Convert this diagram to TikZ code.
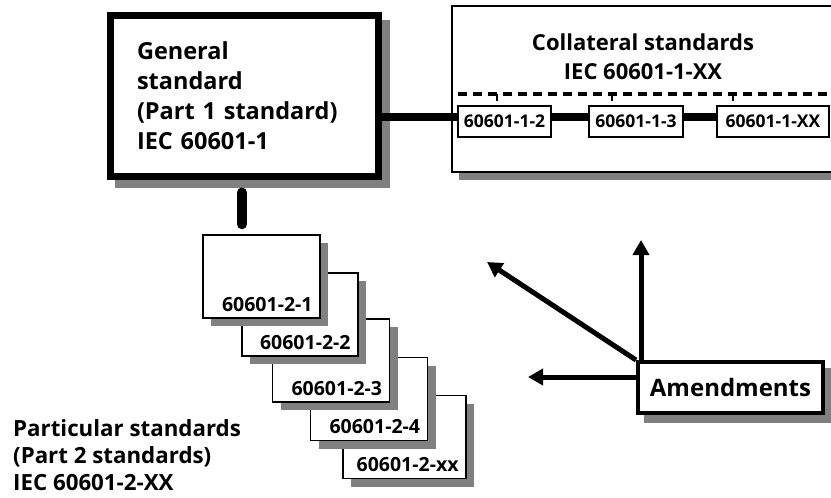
\documentclass[tikz,border=0pt]{standalone}
\usepackage{fontspec}
\setmainfont{Open Sans}
\usetikzlibrary{arrows.meta,shadows,backgrounds,calc}
\definecolor{shadowgray}{gray}{0.5}
\tikzset{
  x=1pt, y=-1pt,
  boxshadow/.style={drop shadow={shadow xshift=8pt, shadow yshift=-8pt, fill=shadowgray, opacity=1}},
  genbox/.style={draw, line width=7pt, fill=white, minimum width=268pt, minimum height=161pt,
    text width=214pt, align=left, inner xsep=27pt, inner ysep=0pt,
    font=\fontsize{23.5}{30}\selectfont\bfseries},
  colbox/.style={draw, line width=1.5pt, fill=white, minimum width=408pt, minimum height=166pt,
    drop shadow={shadow xshift=7pt, shadow yshift=-8pt, fill=shadowgray, opacity=1}},
  coltitle/.style={align=center, inner sep=0pt, font=\fontsize{22}{29}\selectfont\bfseries},
  smallc/.style={draw, line width=1.5pt, fill=white, minimum height=31pt, inner sep=0pt,
    font=\fontsize{17.5}{20}\selectfont\bfseries},
  dashline/.style={line width=3.5pt, dash pattern=on 8.5pt off 6.5pt},
  tickline/.style={line width=2pt, shorten >=4pt},
  link/.style={line width=8pt},
  vlink/.style={line width=10pt, line cap=round, shorten >=10pt},
  pbox/.style={draw, line width=1.5pt, fill=white, minimum width=117pt, minimum height=83pt,
    inner sep=0pt, boxshadow},
  plbl/.style={anchor=south east, inner xsep=8pt, inner ysep=7pt,
    font=\fontsize{19.5}{22}\selectfont\bfseries},
  ptitle/.style={align=left, inner sep=0pt, anchor=north west,
    font=\fontsize{22.3}{27}\selectfont\bfseries},
  amendbox/.style={draw, line width=4pt, fill=white, minimum width=185pt, minimum height=51pt,
    inner sep=0pt, font=\fontsize{24}{28}\selectfont\bfseries},
  arr/.style={line width=5pt, -{Triangle[length=15pt,width=16pt]}},
}
\begin{document}
\begin{tikzpicture}
\useasboundingbox (0,0) rectangle (831,498);

% general standard
\node[genbox] (gen) at (244,95.5) {General\\standard\\(Part 1 standard)\\IEC 60601-1};

% collateral standards
\node[colbox] (col) at (656,89) {};
\node[coltitle] (ct) at (643,57) {Collateral standards\\IEC 60601-1-XX};
\coordinate (dl) at (458,94);
\coordinate (dr) at (850,94);
\draw[dashline] (dl) -- (dr);
\node[smallc, minimum width=93pt] (c2) at (504.5,121.5) {60601-1-2};
\node[smallc, minimum width=94pt] (c3) at (636,121.5) {60601-1-3};
\node[smallc, minimum width=112pt] (cx) at (773,121.5) {60601-1-XX};
\coordinate (t2) at (497,94);
\coordinate (t3) at (612,94);
\coordinate (tx) at (733,94);
\draw[tickline] (t2) -- (t2 |- c2.north);
\draw[tickline] (t3) -- (t3 |- c3.north);
\draw[tickline] (tx) -- (tx |- cx.north);

\coordinate (lk) at ([yshift=4.5pt]c2.west);
\draw[link] (lk -| gen.east) -- (lk);
\draw[link] (lk -| c2.east) -- (lk -| c3.west);
\draw[link] (lk -| c3.east) -- (lk -| cx.west);

% particular standards
\node[pbox, minimum width=123pt, label={[plbl, name=l5]south east:60601-2-xx}] (p5) at (404.5,437) {};
\node[pbox, label={[plbl, name=l4]south east:60601-2-4}] (p4) at (369,399) {};
\node[pbox, label={[plbl, name=l3]south east:60601-2-3}] (p3) at (331,360.5) {};
\node[pbox, minimum width=116pt, label={[plbl, name=l2]south east:60601-2-2}] (p2) at (300,314.5) {};
\node[pbox, label={[plbl, name=l1]south east:60601-2-1}] (p1) at (261.5,276.5) {};

\coordinate (vtop) at ([shift={(-2pt,-13pt)}]gen.south);
\draw[vlink] (vtop) -- (vtop |- p1.north);

\node[ptitle] (pt) at (13,419) {Particular standards\\(Part 2 standards)\\IEC 60601-2-XX};

% amendments
\node[amendbox] (am) at (730.5,387.5) {Amendments};
\coordinate (avt) at (641,240);
\coordinate (adt) at (487,262);
\coordinate (aht) at (528,377);
\draw[arr] (avt |- am.north west) -- (avt);
\draw[arr] (am.north west) -- (adt);
\draw[arr] (aht -| am.west) -- (aht);

\begin{pgfonlayer}{background}
  \fill[shadowgray] ([shift={(8pt,-8pt)}]gen.south west) rectangle ([shift={(8pt,-8pt)}]gen.north east);
  \fill[shadowgray] ([shift={(8pt,-8pt)}]am.south west) rectangle ([shift={(8pt,-8pt)}]am.north east);
\end{pgfonlayer}
\end{tikzpicture}
\end{document}
